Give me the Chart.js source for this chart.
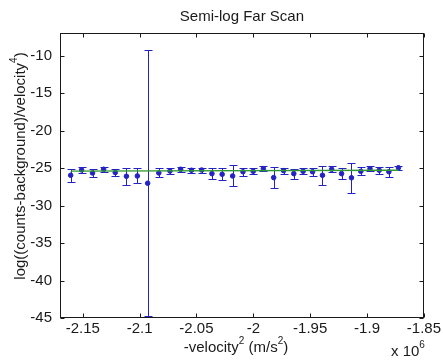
<!DOCTYPE html>
<html lang="en">
<head>
  <meta charset="utf-8">
  <title>Semi-log Far Scan</title>
  <script src="https://cdn.jsdelivr.net/npm/chart.js@4.4.1/dist/chart.umd.min.js"></script>
  <style>
    body { margin: 0; background: #fff; }
    canvas { display: block; }
  </style>
</head>
<body>
<canvas id="myChart" width="443" height="362"></canvas>
<script>
// -velocity^2, in units of 10^6 m^2/s^2
var velSq = [-2.1606, -2.1510, -2.1414, -2.1316, -2.1214, -2.1116, -2.1020, -2.0929, -2.0831, -2.0733, -2.0639,
             -2.0544, -2.0454, -2.0364, -2.0274, -2.0182, -2.0091, -2.0001, -1.9912, -1.9821, -1.9734, -1.9644,
             -1.9562, -1.9479, -1.9392, -1.9311, -1.9224, -1.9137, -1.9055, -1.8974, -1.8893, -1.8808, -1.8724];
// log((counts-background)/velocity^4)
var logRate = [-25.97, -25.26, -25.66, -25.17, -25.60, -26.10, -26.06, -27.03, -25.66, -25.40, -25.17,
               -25.30, -25.27, -25.75, -25.84, -26.06, -25.50, -25.44, -25.09, -26.28, -25.35, -25.75,
               -25.44, -25.50, -25.97, -25.17, -25.75, -26.30, -25.44, -25.09, -25.30, -25.50, -24.96];
var logErr = [0.85, 0.40, 0.55, 0.33, 0.50, 1.15, 1.00, 17.73, 0.60, 0.42, 0.33,
              0.30, 0.33, 0.70, 0.80, 1.40, 0.50, 0.40, 0.33, 1.45, 0.40, 0.65,
              0.42, 0.53, 1.26, 0.42, 0.77, 2.00, 0.55, 0.33, 0.44, 0.68, 0.27];
// straight line fit
var fitX = [-2.1606, -1.8724];
var fitY = [-25.42, -25.30];

var xTicks = [-2.15, -2.1, -2.05, -2, -1.95, -1.9, -1.85];
var yTicks = [-45, -40, -35, -30, -25, -20, -15, -10];

var font = "'Liberation Sans', Arial, sans-serif";
var ink = "#1a1a1a";
var blue = "#2323c4";
var green = "#2f9a2f";

var points = velSq.map(function(v, i) { return {x: v, y: logRate[i]}; });
var fitLine = fitX.map(function(v, i) { return {x: v, y: fitY[i]}; });

function supText(ctx, parts, x, y, align) {
  // parts: [text, isSup]
  var w = 0;
  parts.forEach(function(p) {
    ctx.font = (p[1] ? "10px " : "15px ") + font;
    w += ctx.measureText(p[0]).width;
  });
  var cx = align == "center" ? x - w / 2 : x;
  parts.forEach(function(p) {
    ctx.font = (p[1] ? "10px " : "15px ") + font;
    ctx.fillText(p[0], cx, p[1] ? y - 8 : y);
    cx += ctx.measureText(p[0]).width;
  });
}

// matlab look: error bars, closed box, ticks pointing inwards
var matlabAxes = {
  id: 'matlabAxes',
  beforeDatasetsDraw: function(chart) {
    var ctx = chart.ctx, xs = chart.scales.x, ys = chart.scales.y;
    ctx.save();
    ctx.strokeStyle = blue;
    ctx.lineWidth = 1;
    for (var i = 0; i < velSq.length; i++) {
      var px = Math.round(xs.getPixelForValue(velSq[i])) + 0.5;
      var top = Math.round(ys.getPixelForValue(logRate[i] + logErr[i])) + 0.5;
      var bot = Math.round(ys.getPixelForValue(logRate[i] - logErr[i])) + 0.5;
      ctx.beginPath();
      ctx.moveTo(px, top); ctx.lineTo(px, bot);
      ctx.moveTo(px - 4, top); ctx.lineTo(px + 4, top);
      ctx.moveTo(px - 4, bot); ctx.lineTo(px + 4, bot);
      ctx.stroke();
    }
    ctx.restore();
  },
  afterDraw: function(chart) {
    var ctx = chart.ctx, a = chart.chartArea, xs = chart.scales.x, ys = chart.scales.y;
    var l = Math.round(a.left) + 0.5, r = Math.round(a.right) - 0.5;
    var t = Math.round(a.top) + 0.5, b = Math.round(a.bottom) - 0.5;
    ctx.save();
    ctx.strokeStyle = ink;
    ctx.lineWidth = 1;
    ctx.strokeRect(l, t, r - l, b - t);
    ctx.beginPath();
    xTicks.forEach(function(v) {
      var px = Math.round(xs.getPixelForValue(v)) + 0.5;
      ctx.moveTo(px, b); ctx.lineTo(px, b - 4);
      ctx.moveTo(px, t); ctx.lineTo(px, t + 4);
    });
    yTicks.forEach(function(v) {
      var py = Math.round(ys.getPixelForValue(v)) + 0.5;
      ctx.moveTo(l, py); ctx.lineTo(l + 4, py);
      ctx.moveTo(r, py); ctx.lineTo(r - 4, py);
    });
    ctx.stroke();

    ctx.fillStyle = ink;
    ctx.textBaseline = "alphabetic";
    ctx.textAlign = "center";
    ctx.font = "15px " + font;
    ctx.fillText("Semi-log Far Scan", (a.left + a.right) / 2, 21);

    ctx.textAlign = "left";
    supText(ctx, [["-velocity", 0], ["2", 1], [" (m/s", 0], ["2", 1], [")", 0]], 236, 352, "center");
    supText(ctx, [["x 10", 0], ["6", 1]], 391, 356, "left");

    ctx.translate(25, 166);
    ctx.rotate(-Math.PI / 2);
    supText(ctx, [["log((counts-background)/velocity", 0], ["4", 1], [")", 0]], 0, 0, "center");
    ctx.restore();
  }
};

new Chart("myChart", {
  type: "scatter",
  data: {
    datasets: [{
      label: "data",
      data: points,
      backgroundColor: blue,
      borderColor: blue,
      pointRadius: 2.3,
      pointHoverRadius: 2.3,
      order: 2
    }, {
      label: "fit",
      type: "line",
      data: fitLine,
      borderColor: green,
      borderWidth: 1.3,
      pointRadius: 0,
      fill: false,
      order: 1
    }]
  },
  plugins: [matlabAxes],
  options: {
    responsive: false,
    animation: false,
    layout: { padding: { left: 0, right: 16, top: 33, bottom: 0 } },
    plugins: {
      legend: { display: false },
      tooltip: { enabled: false }
    },
    scales: {
      x: {
        type: "linear",
        min: -2.17,
        max: -1.85,
        grid: { display: false, drawTicks: false },
        border: { display: false },
        afterFit: function(s) { s.height = 44; },
        afterBuildTicks: function(s) { s.ticks = xTicks.map(function(v) { return {value: v}; }); },
        ticks: {
          color: ink,
          padding: 2,
          maxRotation: 0,
          font: { family: font, size: 15, lineHeight: 1.2 },
          callback: function(v) { return String(+v.toFixed(2)); }
        }
      },
      y: {
        type: "linear",
        min: -45,
        max: -7,
        grid: { display: false, drawTicks: false },
        border: { display: false },
        afterFit: function(s) { s.width = 60; },
        afterBuildTicks: function(s) { s.ticks = yTicks.map(function(v) { return {value: v}; }); },
        ticks: {
          color: ink,
          padding: 8,
          font: { family: font, size: 15 },
          callback: function(v) { return String(v); }
        }
      }
    }
  }
});
</script>
</body>
</html>
